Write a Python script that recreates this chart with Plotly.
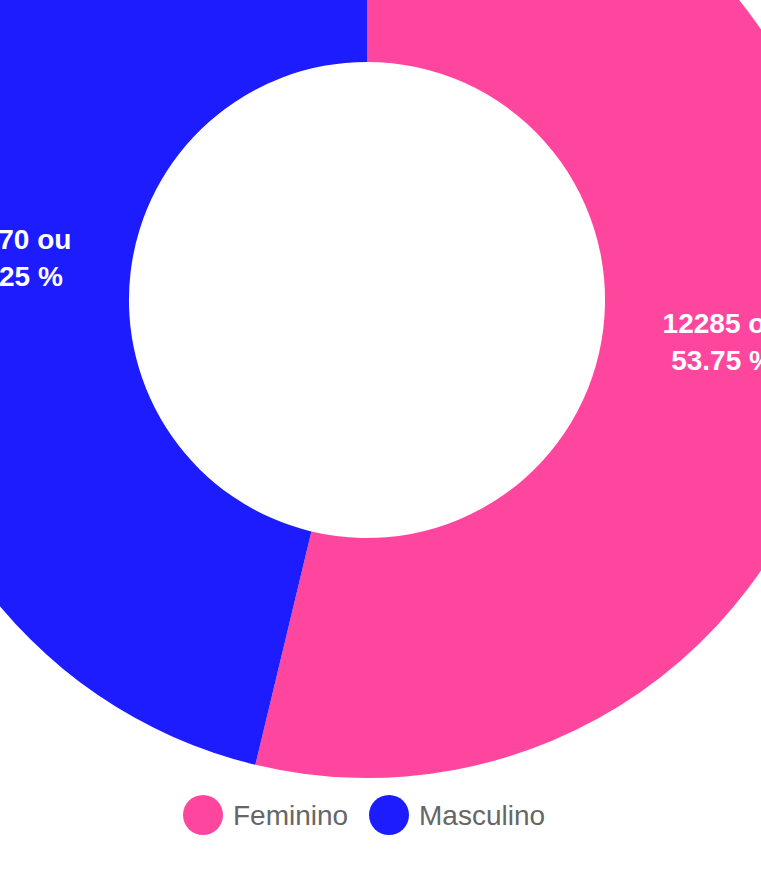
import plotly.graph_objects as go

# ---- data ----
labels = ["Feminino", "Masculino"]
values = [12285, 10570]
colors = ["#ff469f", "#1c1cff"]

total = sum(values)
pct_text = [f"{v / total * 100:.2f}" for v in values]

# ---- geometry / style (page layout) ----
W, H = 956, 1052          # figure size (larger than window, offset by CSS)
OFF_X, OFF_Y = 111, 178   # how far the figure is shifted up/left in the page
PIE_SIZE = 956

fig = go.Figure()
fig.add_trace(go.Pie(
    labels=labels,
    values=values,
    customdata=pct_text,
    marker=dict(colors=colors, line=dict(width=0)),
    hole=0.498,
    sort=False,
    direction="clockwise",
    rotation=0,
    textposition="inside",
    insidetextorientation="horizontal",
    texttemplate="%{value:d} ou<br>%{customdata} %",
    textfont=dict(family="Liberation Sans, Arial, sans-serif", size=28,
                  color="white", weight="bold"),
    domain=dict(x=[0, 1], y=[1 - PIE_SIZE / H, 1]),
    showlegend=False,
    hoverinfo="none",
))

# ---- custom legend (circle markers, like the original) ----
legend_y_px = 815 + OFF_Y
legend_circle_x_px = [203 + OFF_X, 389 + OFF_X]
R = 20
shapes = []
annotations = []
for lab, col, cx in zip(labels, colors, legend_circle_x_px):
    shapes.append(dict(
        type="circle", xref="paper", yref="paper",
        x0=(cx - R) / W, x1=(cx + R) / W,
        y0=1 - (legend_y_px + R) / H, y1=1 - (legend_y_px - R) / H,
        fillcolor=col, line=dict(width=0),
    ))
    annotations.append(dict(
        text=lab, xref="paper", yref="paper",
        x=(cx + R + 8) / W, y=1 - legend_y_px / H,
        xanchor="left", yanchor="middle", showarrow=False,
        font=dict(family="Liberation Sans, Arial, sans-serif", size=28, color="#666666"),
    ))

fig.update_layout(
    width=W, height=H,
    margin=dict(l=0, r=0, t=0, b=0),
    paper_bgcolor="white",
    plot_bgcolor="white",
    shapes=shapes,
    annotations=annotations,
    showlegend=False,
    hovermode=False,
)

post = f"""
var d = document.getElementById('{{plot_id}}');
document.documentElement.style.overflow = 'hidden';
document.body.style.overflow = 'hidden';
document.body.style.margin = '0';
d.style.position = 'absolute';
d.style.left = '-{OFF_X}px';
d.style.top = '-{OFF_Y}px';
"""

fig.write_html("out.html", post_script=post, config={"displayModeBar": False})
